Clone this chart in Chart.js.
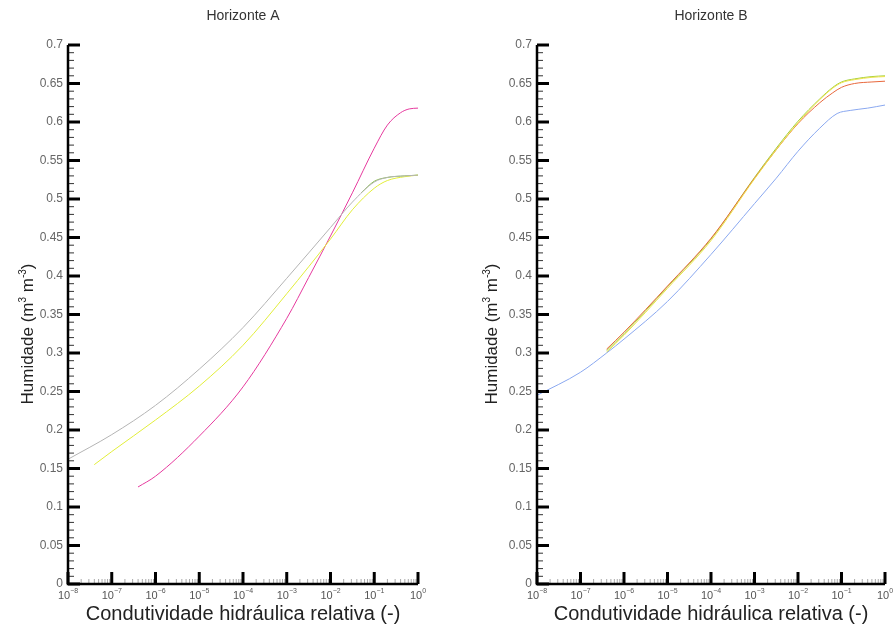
<!DOCTYPE html>
<html>
<head>
<meta charset="utf-8">
<script src="https://cdn.jsdelivr.net/npm/chart.js@4.4.1/dist/chart.umd.min.js"></script>
<style>
  body { margin: 0; background: #fff; }
  .wrap { display: flex; width: 896px; height: 635px; }
  .cell { width: 448px; height: 635px; }
  canvas { display: block; }
</style>
</head>
<body>
<div class="wrap">
  <div class="cell"><canvas id="chartA" width="448" height="635"></canvas></div>
  <div class="cell"><canvas id="chartB" width="448" height="635"></canvas></div>
</div>
<script>
// x axis decades (log10 of relative conductivity) and y tick range
const decades = [-8, -7, -6, -5, -4, -3, -2, -1, 0];
const thetaMin = 0;
const thetaMax = 0.7;
const thetaStep = 0.05;

// Horizonte A - curves (x as log10 K/Ks)
const aGreyLogK = [-8, -7, -6, -5, -4, -3, -2, -1.5, -1, -0.7, -0.3, 0];
const aGreyTheta = [0.162, 0.194, 0.232, 0.279, 0.333, 0.397, 0.463, 0.496, 0.522, 0.528, 0.530, 0.531];

const aYellowLogK = [-7.4, -7, -6, -5, -4, -3, -2, -1.5, -1, -0.7, -0.3, 0];
const aYellowTheta = [0.155, 0.172, 0.213, 0.257, 0.310, 0.377, 0.448, 0.486, 0.514, 0.524, 0.529, 0.531];

const aGreenLogK = [-1.3, -1, -0.7, -0.3, 0];
const aGreenTheta = [0.508, 0.523, 0.528, 0.530, 0.531];

const aMagentaLogK = [-6.4, -6, -5, -4, -3, -2.5, -2, -1.5, -1, -0.7, -0.4, -0.2, 0];
const aMagentaTheta = [0.126, 0.140, 0.192, 0.256, 0.345, 0.398, 0.452, 0.508, 0.566, 0.596, 0.612, 0.617, 0.618];

// Horizonte B
const bBlueLogK = [-8, -7, -6.4, -6, -5, -4, -3, -2.5, -2, -1.5, -1.1, -0.8, -0.4, 0];
const bBlueTheta = [0.245, 0.275, 0.300, 0.318, 0.367, 0.428, 0.494, 0.527, 0.562, 0.592, 0.611, 0.615, 0.618, 0.622];

const bLogK = [-6.4, -6, -5, -4, -3, -2.5, -2, -1.5, -1.2, -1, -0.7, -0.3, 0];
const bYellowTheta = [0.301, 0.323, 0.384, 0.446, 0.526, 0.564, 0.599, 0.629, 0.644, 0.651, 0.655, 0.658, 0.659];
const bOrangeTheta = [0.305, 0.327, 0.387, 0.449, 0.527, 0.564, 0.598, 0.625, 0.638, 0.645, 0.650, 0.652, 0.653];
const bGreenTheta = [0.303, 0.325, 0.386, 0.448, 0.528, 0.566, 0.601, 0.630, 0.645, 0.652, 0.656, 0.659, 0.660];

const FONT = 'Arial, "Liberation Sans", sans-serif';

function toPoints(logK, theta) {
  return logK.map((e, i) => ({ x: Math.pow(10, e), y: theta[i] }));
}

function series(logK, theta, color) {
  return {
    data: toPoints(logK, theta),
    borderColor: color,
    borderWidth: 1,
    pointRadius: 0,
    fill: false,
    cubicInterpolationMode: 'monotone'
  };
}

// draws text made of pieces [text, size, raise] centred on (cx, baseline)
function drawRich(ctx, parts, cx, baseline, rotate, color) {
  ctx.save();
  ctx.translate(cx, baseline);
  if (rotate) ctx.rotate(-Math.PI / 2);
  ctx.fillStyle = color;
  ctx.textBaseline = 'alphabetic';
  ctx.textAlign = 'left';
  let total = 0;
  parts.forEach((p) => {
    ctx.font = `${p[1]}px ${FONT}`;
    total += ctx.measureText(p[0]).width;
  });
  let x = -total / 2;
  parts.forEach((p) => {
    ctx.font = `${p[1]}px ${FONT}`;
    ctx.fillText(p[0], x, -p[2]);
    x += ctx.measureText(p[0]).width;
  });
  ctx.restore();
}

const paperAxes = {
  id: 'paperAxes',
  afterDatasetsDraw(chart, args, opts) {
    const { ctx, chartArea: a, scales: { x, y } } = chart;
    ctx.save();
    ctx.lineCap = 'butt';

    // minor y ticks every 0.01, major every 0.05, drawn inwards
    const nMinor = Math.round((thetaMax - thetaMin) / 0.01);
    for (let i = 0; i <= nMinor; i++) {
      const py = y.getPixelForValue(thetaMin + i * 0.01);
      const major = i % 5 === 0;
      ctx.strokeStyle = major ? '#000' : '#333';
      ctx.lineWidth = major ? 3 : 1;
      ctx.beginPath();
      ctx.moveTo(a.left, py);
      ctx.lineTo(a.left + (major ? 12 : 6), py);
      ctx.stroke();
    }

    // log x ticks
    decades.forEach((d, i) => {
      const px = x.getPixelForValue(Math.pow(10, d));
      ctx.strokeStyle = '#000';
      ctx.lineWidth = 3;
      ctx.beginPath();
      ctx.moveTo(px, a.bottom);
      ctx.lineTo(px, a.bottom - 12);
      ctx.stroke();
      if (i < decades.length - 1) {
        for (let m = 2; m <= 9; m++) {
          const mx = x.getPixelForValue(m * Math.pow(10, d));
          ctx.strokeStyle = '#aaa';
          ctx.lineWidth = 1;
          ctx.beginPath();
          ctx.moveTo(mx, a.bottom);
          ctx.lineTo(mx, a.bottom - 5);
          ctx.stroke();
        }
      }
      // tick label 10^d
      drawRich(ctx, [['10', 11, 0], [String(d).replace('-', '\u2212'), 7, 6]], px, a.bottom + 15, false, '#555');
    });

    // axis lines
    ctx.strokeStyle = '#000';
    ctx.lineWidth = 2.5;
    ctx.beginPath();
    ctx.moveTo(a.left, a.top);
    ctx.lineTo(a.left, a.bottom);
    ctx.lineTo(a.right, a.bottom);
    ctx.stroke();

    const cx = (a.left + a.right) / 2;
    drawRich(ctx, [[opts.title, 14, 0]], cx, 20, false, '#333');
    drawRich(ctx, [['Condutividade hidráulica relativa (-)', 20, 0]], cx, 620, false, '#222');
    drawRich(ctx, [['Humidade (m', 17, 0], ['3', 10, 7], [' m', 17, 0], ['-3', 10, 7], [')', 17, 0]],
      opts.yTitleX, 334, true, '#222');
    ctx.restore();
  }
};

function makeChart(id, datasets, yWidth, padRight, title, yTitleX) {
  return new Chart(document.getElementById(id), {
    type: 'line',
    data: { datasets },
    plugins: [paperAxes],
    options: {
      responsive: false,
      animation: false,
      layout: { padding: { top: 45, right: padRight, bottom: 0, left: 0 } },
      plugins: {
        legend: { display: false },
        tooltip: { enabled: false },
        paperAxes: { title, yTitleX }
      },
      scales: {
        x: {
          type: 'logarithmic',
          min: Math.pow(10, decades[0]),
          max: Math.pow(10, decades[decades.length - 1]),
          ticks: { display: false },
          grid: { display: false, drawTicks: false },
          border: { display: false },
          afterFit: (s) => { s.height = 51; }
        },
        y: {
          min: thetaMin,
          max: thetaMax,
          ticks: {
            stepSize: thetaStep,
            color: '#666',
            padding: 5,
            font: { family: FONT, size: 12 },
            callback: (v) => String(Number(v.toFixed(2)))
          },
          grid: { display: false, drawTicks: false },
          border: { display: false },
          afterFit: (s) => { s.width = yWidth; }
        }
      }
    }
  });
}

makeChart('chartA', [
  series(aGreyLogK, aGreyTheta, '#b4b4b4'),
  series(aYellowLogK, aYellowTheta, '#e2ee3a'),
  series(aGreenLogK, aGreenTheta, '#86c240'),
  series(aMagentaLogK, aMagentaTheta, '#e63a9e')
], 68, 30, 'Horizonte A', 33);

makeChart('chartB', [
  series(bBlueLogK, bBlueTheta, '#8aa8f0'),
  series(bLogK, bYellowTheta, '#eee24a'),
  series(bLogK, bOrangeTheta, '#e8683c'),
  series(bLogK, bGreenTheta, '#a2d03a')
], 89, 11, 'Horizonte B', 49);
</script>
</body>
</html>
